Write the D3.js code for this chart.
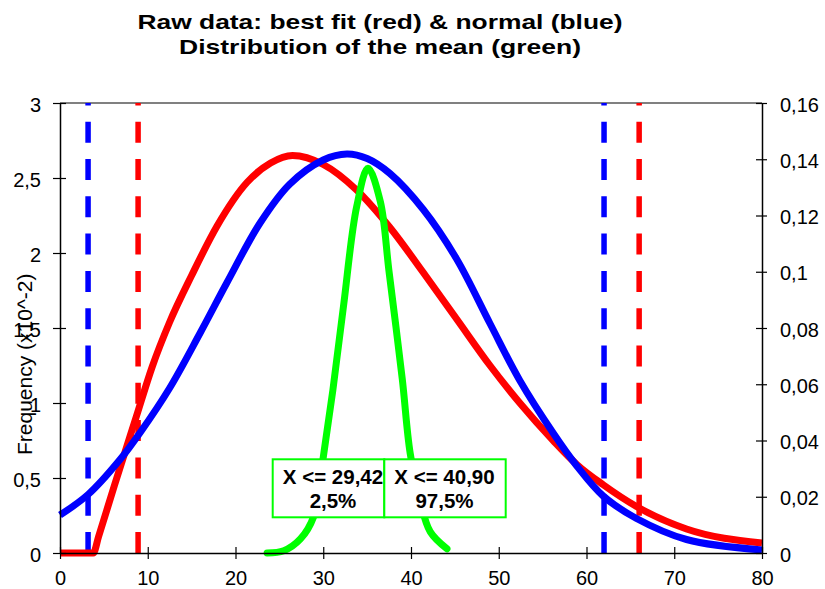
<!DOCTYPE html>
<html>
<head>
<meta charset="utf-8">
<script src="https://cdn.jsdelivr.net/npm/d3@7"></script>
<style>
  body { margin: 0; background: #fff; }
  svg { font-family: "Liberation Sans", Arial, sans-serif; }
</style>
</head>
<body>
<div id="chart"></div>
<script>
// axis ticks
const xTicks = [0, 10, 20, 30, 40, 50, 60, 70, 80]
const leftTicks = [0, 0.5, 1, 1.5, 2, 2.5, 3]
const rightTicks = [0, 0.02, 0.04, 0.06, 0.08, 0.1, 0.12, 0.14, 0.16]

// best fit (red), left axis
const fitX = [0, 3.8, 4.4, 6.2, 8.7, 10.5, 12.5, 15.0, 17.9, 21.3, 24.0, 26.5, 30.0, 33.8, 37.6, 41.4, 45.2, 49.0, 52.4, 56.2, 58.9, 61.9, 65.7, 71.4, 80]
const fitY = [0, 0, 0.11, 0.45, 0.91, 1.24, 1.54, 1.85, 2.18, 2.47, 2.60, 2.65, 2.59, 2.42, 2.17, 1.87, 1.56, 1.25, 1.00, 0.75, 0.59, 0.455, 0.31, 0.16, 0.067]

// normal (blue), left axis
const normX = [0, 3.2, 6.8, 9.1, 12.5, 16.0, 19.0, 22.8, 26.2, 30.0, 32.7, 35.0, 37.6, 41.4, 45.2, 49.0, 52.4, 56.2, 58.9, 61.9, 65.7, 71.4, 80]
const normY = [0.253, 0.39, 0.62, 0.80, 1.10, 1.47, 1.80, 2.20, 2.46, 2.62, 2.66, 2.63, 2.53, 2.29, 1.96, 1.53, 1.15, 0.80, 0.58, 0.38, 0.23, 0.09, 0.02]

// distribution of the mean (green), right axis
const meanX = [23.6, 25.5, 27.4, 28.9, 30.0, 31.1, 32.3, 33.8, 35.1, 36.5, 37.5, 39.0, 39.9, 41.0, 42.2, 44.1]
const meanY = [0, 0.0008, 0.005, 0.0129, 0.034, 0.058, 0.0876, 0.123, 0.1368, 0.125, 0.100, 0.062, 0.0356, 0.019, 0.0075, 0.0015]

// 2.5% / 97.5% limits
const normLimits = [3.2, 62.0]
const fitLimits = [8.9, 66.0]

// mean quantile labels
const quantText = ["X <= 29,42", "X <= 40,90"]
const quantPct = ["2,5%", "97,5%"]

var width = 825, height = 589;
var margin = {top: 103, right: 63, bottom: 36, left: 60};

var svg = d3.select('#chart').append('svg')
    .attr('width', width)
    .attr('height', height);

var x = d3.scaleLinear().domain([0, 80]).range([margin.left, width - margin.right]);
var yL = d3.scaleLinear().domain([0, 3]).range([height - margin.bottom, margin.top]);
var yR = d3.scaleLinear().domain([0, 0.16]).range([height - margin.bottom, margin.top]);

var comma = function(d){ return String(d).replace('.', ','); };

// title
var title = svg.append('g').attr('font-weight', 'bold').attr('font-size', 21).attr('text-anchor', 'middle');
title.append('text').attr('x', 380).attr('y', 28.5)
    .attr('textLength', 485).attr('lengthAdjust', 'spacingAndGlyphs')
    .text('Raw data: best fit (red) & normal (blue)');
title.append('text').attr('x', 380).attr('y', 54)
    .attr('textLength', 402).attr('lengthAdjust', 'spacingAndGlyphs')
    .text('Distribution of the mean (green)');

// top border
svg.append('line')
    .attr('x1', x(0)).attr('x2', x(80))
    .attr('y1', yL(3)).attr('y2', yL(3))
    .attr('stroke', '#808080').attr('stroke-width', 2);

// dashed limits
function vline(v, color){
    svg.append('line')
        .attr('x1', x(v)).attr('x2', x(v))
        .attr('y1', yL(0)).attr('y2', yL(3))
        .attr('stroke', color)
        .attr('stroke-width', 5.5)
        .attr('stroke-dasharray', '21,16.3');
}
normLimits.forEach(function(v){ vline(v, '#0000ff'); });
fitLimits.forEach(function(v){ vline(v, '#ff0000'); });

// curves
function curve(xs, ys, yscale, color, cap, interp){
    var pts = xs.map(function(d, i){ return [d, ys[i]]; });
    var line = d3.line()
        .x(function(d){ return x(d[0]); })
        .y(function(d){ return yscale(d[1]); })
        .curve(interp);
    svg.append('path')
        .datum(pts)
        .attr('d', line)
        .attr('fill', 'none')
        .attr('stroke', color)
        .attr('stroke-width', 7)
        .attr('stroke-linejoin', 'round')
        .attr('stroke-linecap', cap);
}
curve(fitX, fitY, yL, '#ff0000', 'butt', d3.curveMonotoneX);
curve(normX, normY, yL, '#0000ff', 'butt', d3.curveCatmullRom.alpha(0.5));
curve(meanX, meanY, yR, '#00ff00', 'round', d3.curveCatmullRom.alpha(0.5));

// axes
var axX = svg.append('g')
    .attr('transform', 'translate(0,' + yL(0) + ')')
    .call(d3.axisBottom(x).tickValues(xTicks).tickFormat(comma).tickSizeOuter(0));
axX.selectAll('.tick line').attr('y1', -6).attr('y2', 6);
axX.selectAll('.tick text').attr('y', 31.5).attr('dy', 0);

var axL = svg.append('g')
    .attr('transform', 'translate(' + x(0) + ',0)')
    .call(d3.axisLeft(yL).tickValues(leftTicks).tickFormat(comma).tickSizeOuter(0));
axL.selectAll('.tick line').attr('x1', -7).attr('x2', 6);
axL.selectAll('.tick text').attr('x', -19).attr('dy', '0.4em');

var axR = svg.append('g')
    .attr('transform', 'translate(' + x(80) + ',0)')
    .call(d3.axisRight(yR).tickValues(rightTicks).tickFormat(comma).tickSizeOuter(0));
axR.selectAll('.tick line').attr('x1', -6).attr('x2', 5);
axR.selectAll('.tick text').attr('x', 18).attr('dy', '0.4em');

svg.selectAll('.domain').attr('stroke', '#000').attr('stroke-width', 1.5);
svg.selectAll('.tick line').attr('stroke', '#000').attr('stroke-width', 1.2);
svg.selectAll('.tick text')
    .attr('font-size', 20)
    .attr('font-family', '"Liberation Sans", Arial, sans-serif')
    .attr('fill', '#000');

// y title
svg.append('text')
    .attr('transform', 'translate(31.5,455) rotate(-90)')
    .attr('font-size', 21)
    .text('Frequency (x10^-2)');

// quantile boxes
var boxes = [{x0: 272.7, w: 111.6}, {x0: 384.3, w: 121.4}];
boxes.forEach(function(b, i){
    var g = svg.append('g');
    g.append('rect')
        .attr('x', b.x0).attr('y', 459.3)
        .attr('width', b.w).attr('height', 58)
        .attr('fill', '#fff')
        .attr('stroke', '#00ff00')
        .attr('stroke-width', 2);
    var cx = i == 0 ? 333 : 444.5;
    g.append('text').attr('x', cx).attr('y', 484.3)
        .attr('text-anchor', 'middle').attr('font-weight', 'bold').attr('font-size', 20.5)
        .text(quantText[i]);
    g.append('text').attr('x', cx).attr('y', 508.3)
        .attr('text-anchor', 'middle').attr('font-weight', 'bold').attr('font-size', 20.5)
        .text(quantPct[i]);
});
</script>
</body>
</html>
